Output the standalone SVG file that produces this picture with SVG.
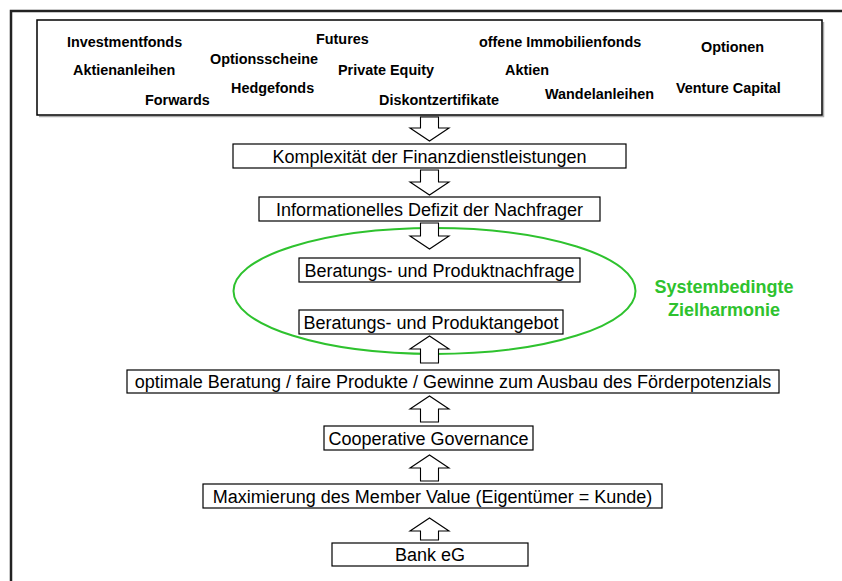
<svg xmlns="http://www.w3.org/2000/svg" width="842" height="581" viewBox="0 0 842 581">
<style>
.box{fill:#fff;stroke:#000;stroke-width:1.2}
.t{font-family:"Liberation Sans",Arial,sans-serif;font-size:18px;fill:#000;text-anchor:middle}
.w{font-family:"Liberation Sans",Arial,sans-serif;font-size:14.4px;font-weight:bold;fill:#000}
.g{font-family:"Liberation Sans",Arial,sans-serif;font-size:18px;font-weight:bold;fill:#2ec22e;text-anchor:middle}
.arr{fill:#fff;stroke:#000;stroke-width:1.1;stroke-linejoin:miter}
</style>
<rect width="842" height="581" fill="#fff"/>
<g id="frame">
<path d="M11,581 V11 H842" fill="none" stroke="#222" stroke-width="2.5"/>
</g>
<g id="products">
<path d="M39,116.5 H823.5 V22" fill="none" stroke="#aaa" stroke-width="1.5"/>
<rect x="37" y="20" width="785" height="95" fill="#fff" stroke="#000" stroke-width="1.5"/>
<text class="w" x="67" y="47">Investmentfonds</text>
<text class="w" x="316" y="44">Futures</text>
<text class="w" x="479" y="47">offene Immobilienfonds</text>
<text class="w" x="701" y="52">Optionen</text>
<text class="w" x="73" y="75">Aktienanleihen</text>
<text class="w" x="210" y="64">Optionsscheine</text>
<text class="w" x="338" y="75">Private Equity</text>
<text class="w" x="505" y="75">Aktien</text>
<text class="w" x="145" y="105">Forwards</text>
<text class="w" x="231" y="93">Hedgefonds</text>
<text class="w" x="379" y="105">Diskontzertifikate</text>
<text class="w" x="545" y="99">Wandelanleihen</text>
<text class="w" x="676" y="93">Venture Capital</text>
</g>
<g id="harmonie">
<ellipse cx="434.5" cy="291" rx="201" ry="63" fill="none" stroke="#2ec22e" stroke-width="2"/>
<text class="g" x="724" y="293">Systembedingte</text>
<text class="g" x="724" y="316">Zielharmonie</text>
</g>
<g id="connectors">
<path class="arr" d="M420.5,117 H438.5 V128 H449 L429.5,141 L410,128 H420.5 Z"/>
<path class="arr" d="M420.5,170 H438.5 V182 H449 L429.5,195 L410,182 H420.5 Z"/>
<path class="arr" d="M420.5,223 H438.5 V236 H449 L429.5,249 L410,236 H420.5 Z"/>
<path class="arr" d="M420.5,363 H438.5 V349 H449 L429.5,336 L410,349 H420.5 Z"/>
<path class="arr" d="M420.5,422 H438.5 V409 H449 L429.5,396 L410,409 H420.5 Z"/>
<path class="arr" d="M420.5,481 H438.5 V468 H449 L429.5,455 L410,468 H420.5 Z"/>
<path class="arr" d="M420.5,540 H438.5 V531 H449 L429.5,518 L410,531 H420.5 Z"/>
</g>
<g id="komplexitaet">
<rect class="box" x="233" y="144" width="393" height="24"/>
<text class="t" x="429.5" y="162.5">Komplexität der Finanzdienstleistungen</text>
</g>
<g id="defizit">
<rect class="box" x="259" y="197" width="341" height="24"/>
<text class="t" x="429.5" y="215.5">Informationelles Defizit der Nachfrager</text>
</g>
<g id="nachfrage">
<rect class="box" x="299" y="258" width="281" height="24"/>
<text class="t" x="439.5" y="276.5">Beratungs- und Produktnachfrage</text>
</g>
<g id="angebot">
<rect class="box" x="299" y="310" width="264" height="24"/>
<text class="t" x="431" y="328.5">Beratungs- und Produktangebot</text>
</g>
<g id="beratung">
<rect class="box" x="127" y="370" width="652" height="23"/>
<text class="t" x="453" y="388">optimale Beratung / faire Produkte / Gewinne zum Ausbau des Förderpotenzials</text>
</g>
<g id="governance">
<rect class="box" x="324" y="426" width="209" height="24"/>
<text class="t" x="428.5" y="444.5">Cooperative Governance</text>
</g>
<g id="membervalue">
<rect class="box" x="203" y="484" width="459" height="24"/>
<text class="t" x="432.5" y="502.5">Maximierung des Member Value (Eigentümer = Kunde)</text>
</g>
<g id="bank">
<rect class="box" x="332" y="543" width="196" height="23"/>
<text class="t" x="430" y="561">Bank eG</text>
</g>
</svg>
